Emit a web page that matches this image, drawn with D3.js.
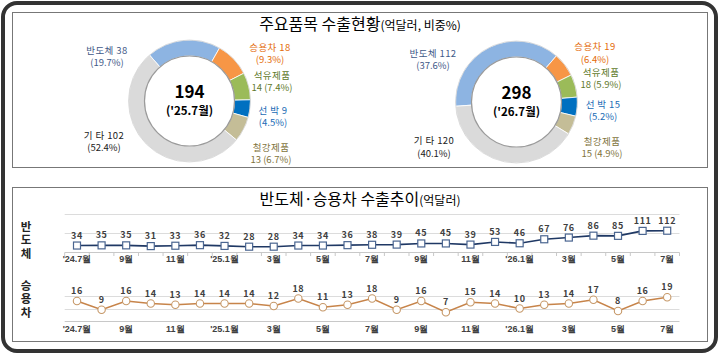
<!DOCTYPE html>
<html>
<head>
<meta charset="utf-8">
<script src="https://cdn.jsdelivr.net/npm/d3@7"></script>
<style>
  body { margin: 0; background: #fff; }
  svg { display: block; font-family: "Noto Sans CJK KR", "Noto Sans", sans-serif; }
  .lbl { font-size: 9.5px; }
  .val { font-size: 9px; font-weight: bold; fill: #404040; }
  .tick text { font-size: 9px; font-weight: bold; fill: #404040; }
  .side { writing-mode: vertical-rl; text-orientation: upright; }
</style>
</head>
<body>
<svg id="chart" width="720" height="356"></svg>
<script>
// donut data
const items = ['반도체', '승용차', '석유제품', '선 박', '철강제품', '기 타'];
const values25 = [38, 18, 14, 9, 13, 102];
const share25 = [19.7, 9.3, 7.4, 4.5, 6.7, 52.4];
const values26 = [112, 19, 18, 15, 15, 120];
const share26 = [37.6, 6.4, 5.9, 5.2, 4.9, 40.1];
const totals = [194, 298];
const periods = ["('25.7월)", "('26.7월)"];

// line data
const months = ["'24.7월", '8월', '9월', '10월', '11월', '12월', "'25.1월", '2월', '3월', '4월', '5월', '6월',
    '7월', '8월 ', '9월 ', '10월 ', '11월 ', '12월 ', "'26.1월", '2월 ', '3월 ', '4월 ', '5월 ', '6월 ', '7월 '];
const semi = [34, 35, 35, 31, 33, 36, 32, 28, 28, 34, 34, 36, 38, 39, 45, 45, 39, 53, 46, 67, 76, 86, 85, 111, 112];
const cars = [16, 9, 16, 14, 13, 14, 14, 14, 12, 18, 11, 13, 18, 9, 16, 7, 15, 14, 10, 13, 14, 17, 8, 16, 19];

const colors = ['#8db4e2', '#f79646', '#9bbb59', '#0070c0', '#c4bd97', '#dadada'];
const textColors = ['#3f5a88', '#e46c0a', '#5f7a2c', '#1a6bb5', '#7f7440', '#222'];
// value on the second line for these
const splitLine = [false, false, true, false, true, false];

const svg = d3.select('#chart');

// frames
svg.append('rect')
    .attr('x', 3).attr('y', 3).attr('width', 713).attr('height', 348)
    .attr('rx', 14)
    .attr('fill', 'none').attr('stroke', '#333').attr('stroke-width', 4);

svg.append('rect')
    .attr('x', 12.5).attr('y', 12.5).attr('width', 695).attr('height', 155)
    .attr('fill', 'none').attr('stroke', '#777').attr('stroke-width', 1);

svg.append('rect')
    .attr('x', 12.5).attr('y', 187.5).attr('width', 695).attr('height', 154)
    .attr('fill', 'none').attr('stroke', '#777').attr('stroke-width', 1);

// titles
let t1 = svg.append('text').attr('x', 360).attr('y', 30).attr('text-anchor', 'middle');
t1.append('tspan').attr('font-size', 16).text('주요품목 수출현황');
t1.append('tspan').attr('font-size', 12).text('(억달러, 비중%)');

let t2 = svg.append('text').attr('x', 360).attr('y', 205).attr('text-anchor', 'middle');
t2.append('tspan').attr('font-size', 16).text('반도체·승용차 수출추이');
t2.append('tspan').attr('font-size', 12).text('(억달러)');

// donuts
const donuts = [
    {cx: 189.5, cy: 101, start: -41, values: values25, share: share25,
        labels: [[107, 50], [270, 47], [272, 75], [273, 110], [271, 147], [104, 135]]},
    {cx: 516.5, cy: 102, start: -94, values: values26, share: share26,
        labels: [[433, 53], [595, 46.5], [601, 72], [603, 104], [602, 141], [434, 140.5]]}
];

const arc = d3.arc().innerRadius(45).outerRadius(61);

donuts.forEach(function(dn, k) {
    let a0 = dn.start * Math.PI / 180;
    let pie = d3.pie().sort(null).startAngle(a0).endAngle(a0 + 2 * Math.PI);
    let g = svg.append('g').attr('transform', 'translate(' + dn.cx + ',' + dn.cy + ')');

    g.selectAll('path')
        .data(pie(dn.values))
        .join('path')
        .attr('d', arc)
        .attr('fill', (d, i) => colors[i])
        .attr('stroke', '#fff')
        .attr('stroke-width', 0.8);

    g.append('circle').attr('r', 45).attr('fill', 'none').attr('stroke', '#9a9a9a').attr('stroke-width', 1.2);
    g.append('circle').attr('r', 61).attr('fill', 'none').attr('stroke', '#c8c8c8').attr('stroke-width', 0.6);

    g.append('text').attr('y', -3).attr('text-anchor', 'middle')
        .attr('font-size', 17).attr('font-weight', 'bold').text(totals[k]);
    g.append('text').attr('y', 14).attr('text-anchor', 'middle')
        .attr('font-size', 11.5).attr('font-weight', 'bold').text(periods[k]);

    items.forEach(function(name, i) {
        let p = dn.labels[i];
        let line1 = splitLine[i] ? name : name + ' ' + dn.values[i];
        let line2 = splitLine[i] ? dn.values[i] + ' (' + dn.share[i] + '%)' : '(' + dn.share[i] + '%)';
        svg.append('text').attr('class', 'lbl')
            .attr('x', p[0]).attr('y', p[1] + 3.5).attr('text-anchor', 'middle')
            .attr('fill', textColors[i]).attr('letter-spacing', 0.4).text(line1);
        svg.append('text').attr('class', 'lbl')
            .attr('x', p[0]).attr('y', p[1] + 16).attr('text-anchor', 'middle')
            .attr('fill', textColors[i]).attr('font-size', 9).text(line2);
    });
});

// line charts
const x = d3.scaleBand().domain(months).range([64.7, 679.5]);
const cx = d => x(d) + x.bandwidth() / 2;

const ySemi = d3.scaleLinear().domain([0, 200]).range([252, 214]);
const yCar = d3.scaleLinear().domain([0, 20]).range([321, 296]);

function drawPanel(y, data, grids, opt) {
    let g = svg.append('g');

    g.selectAll('.grid')
        .data(grids)
        .join('line')
        .attr('x1', 64.7).attr('x2', 679.5)
        .attr('y1', d => Math.round(y(d)) + 0.5).attr('y2', d => Math.round(y(d)) + 0.5)
        .attr('stroke', d => d === 0 ? '#c8c8c8' : '#dcdcdc')
        .attr('stroke-width', 1);

    if (opt.ticks) {
        g.selectAll('.tk')
            .data(months.concat(['end']))
            .join('line')
            .attr('x1', (d, i) => 64.7 + i * x.bandwidth())
            .attr('x2', (d, i) => 64.7 + i * x.bandwidth())
            .attr('y1', Math.round(y(0)) + 0.5).attr('y2', Math.round(y(0)) + 4)
            .attr('stroke', '#c8c8c8');
    }

    let line = d3.line().x((d, i) => cx(months[i])).y(d => y(d));
    g.append('path')
        .datum(data)
        .attr('d', line)
        .attr('fill', 'none')
        .attr('stroke', opt.line)
        .attr('stroke-width', 1.6);

    if (opt.square) {
        g.selectAll('.m')
            .data(data)
            .join('rect')
            .attr('x', (d, i) => cx(months[i]) - 3.5)
            .attr('y', d => y(d) - 3.5)
            .attr('width', 7).attr('height', 7)
            .attr('fill', '#fff').attr('stroke', opt.marker).attr('stroke-width', 1.2);
    } else {
        g.selectAll('.m')
            .data(data)
            .join('circle')
            .attr('cx', (d, i) => cx(months[i]))
            .attr('cy', d => y(d))
            .attr('r', 3.7)
            .attr('fill', '#fff').attr('stroke', opt.marker).attr('stroke-width', 1.1);
    }

    g.selectAll('.val')
        .data(data)
        .join('text')
        .attr('class', 'val')
        .attr('x', (d, i) => cx(months[i]))
        .attr('y', d => y(d) - 7)
        .attr('text-anchor', 'middle')
        .attr('letter-spacing', 0.6)
        .text(d => d);

    let axis = d3.axisBottom(x)
        .tickValues(months.filter((d, i) => i % 2 === 0))
        .tickFormat(d => d.trim())
        .tickSize(0)
        .tickPadding(0);

    svg.append('g')
        .attr('transform', 'translate(0,' + opt.labelY + ')')
        .call(axis)
        .call(a => a.select('.domain').remove());
}

drawPanel(ySemi, semi, [0, 100, 200], {line: '#1f3864', marker: '#4a6590', square: true, ticks: true, labelY: 256});
drawPanel(yCar, cars, [0, 10, 20], {line: '#c7844a', marker: '#c69868', square: false, ticks: false, labelY: 326});

// side labels written top to bottom
[['반도체', 241], ['승용차', 300]].forEach(function(c) {
    svg.append('text')
        .attr('class', 'side')
        .attr('x', 26).attr('y', c[1])
        .attr('text-anchor', 'middle')
        .attr('letter-spacing', 2)
        .attr('font-size', 11.5).attr('font-weight', 'bold').attr('fill', '#222')
        .text(c[0]);
});
</script>
</body>
</html>
